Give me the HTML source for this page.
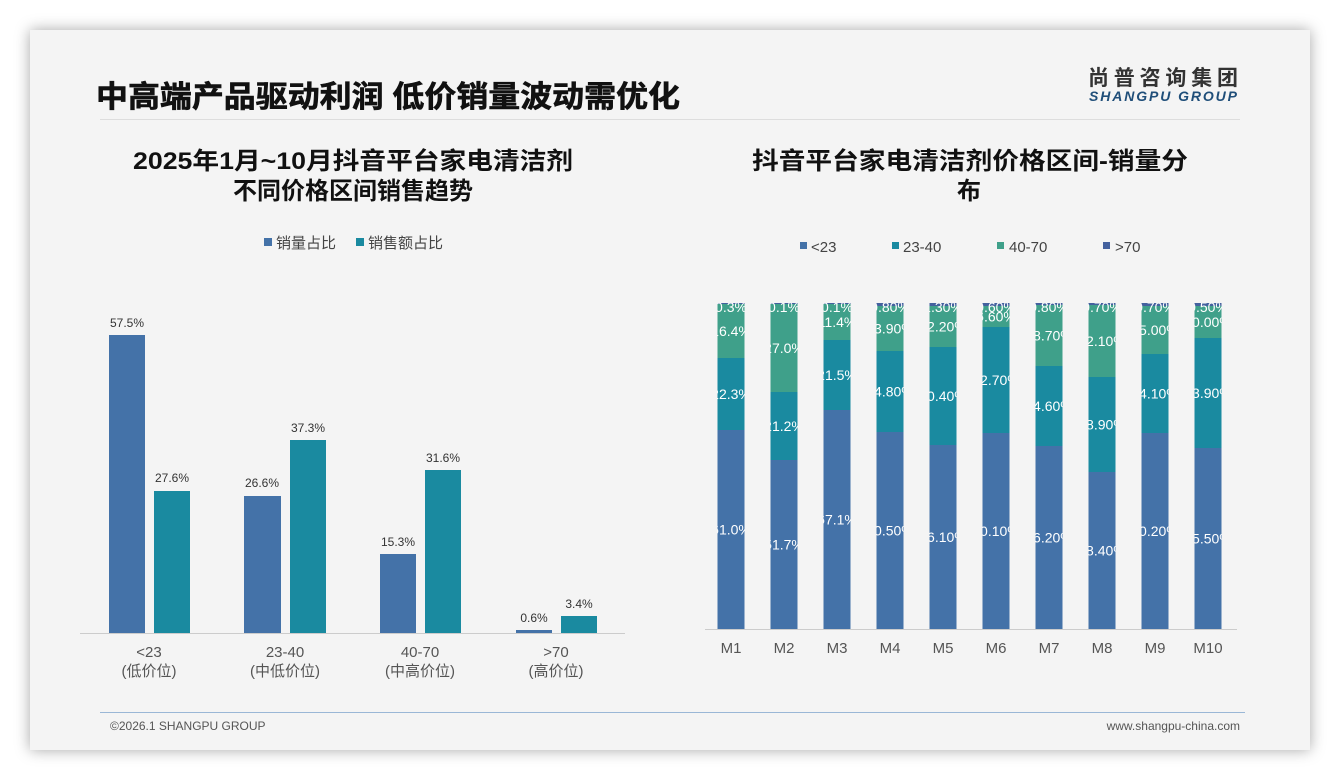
<!DOCTYPE html>
<html><head><meta charset="utf-8"><style>
html,body{margin:0;padding:0;background:#fff;}
body{width:1340px;height:780px;position:relative;overflow:hidden;font-family:"Liberation Sans","Noto Sans CJK SC",sans-serif;}
.card{position:absolute;left:30px;top:30px;width:1280px;height:720px;background:#f4f4f4;box-shadow:0 0 14px rgba(0,0,0,0.35);}
</style></head><body>
<div class="card"></div>
<svg width="1340" height="780" style="position:absolute;left:0;top:0" font-family="Liberation Sans, Noto Sans CJK SC, sans-serif">
<text x="96" y="107" font-size="30" font-weight="bold" fill="#111" textLength="584" lengthAdjust="spacingAndGlyphs" stroke="#111" stroke-width="0.6">中高端产品驱动利润 低价销量波动需优化</text>
<line x1="100" y1="119.5" x2="1240" y2="119.5" stroke="#ddd"/>
<text x="1088" y="85" font-size="21" font-weight="bold" fill="#333" textLength="150">尚普咨询集团</text>
<text x="1089" y="101" font-size="14" font-weight="bold" font-style="italic" fill="#1f4e79" textLength="148">SHANGPU GROUP</text>
<line x1="100" y1="712.5" x2="1245" y2="712.5" stroke="#9ab7d6"/>
<text x="110" y="730" font-size="12" fill="#555">©2026.1 SHANGPU GROUP</text>
<text x="1240" y="730" font-size="12" fill="#555" text-anchor="end">www.shangpu-china.com</text>

<text x="133" y="169" font-size="24" font-weight="bold" fill="#111" textLength="440" lengthAdjust="spacingAndGlyphs">2025年1月~10月抖音平台家电清洁剂</text>
<text x="353" y="199" font-size="24" font-weight="bold" fill="#111" text-anchor="middle">不同价格区间销售趋势</text>
<rect x="264" y="238" width="8" height="8" fill="#4472a8"/><text x="276" y="248" font-size="15" fill="#444">销量占比</text>
<rect x="356" y="238" width="8" height="8" fill="#1a8aa0"/><text x="368" y="248" font-size="15" fill="#444">销售额占比</text>
<g fill="#4472a8">
<rect x="109" y="335" width="36" height="298"/><rect x="244" y="496" width="37" height="137"/><rect x="380" y="554" width="36" height="79"/><rect x="516" y="630" width="36" height="3"/>
</g>
<g fill="#1a8aa0">
<rect x="154" y="491" width="36" height="142"/><rect x="290" y="440" width="36" height="193"/><rect x="425" y="470" width="36" height="163"/><rect x="561" y="616" width="36" height="17"/>
</g>
<line x1="80" y1="633.5" x2="625" y2="633.5" stroke="#ccc"/>
<g font-size="12" fill="#333" text-anchor="middle">
<text x="127" y="327">57.5%</text><text x="172" y="482">27.6%</text>
<text x="262" y="487">26.6%</text><text x="308" y="432">37.3%</text>
<text x="398" y="546">15.3%</text><text x="443" y="462">31.6%</text>
<text x="534" y="622">0.6%</text><text x="579" y="608">3.4%</text>
</g>
<g font-size="15" fill="#555" text-anchor="middle">
<text x="149" y="657">&lt;23</text><text x="149" y="676">(低价位)</text>
<text x="285" y="657">23-40</text><text x="285" y="676">(中低价位)</text>
<text x="420" y="657">40-70</text><text x="420" y="676">(中高价位)</text>
<text x="556" y="657">&gt;70</text><text x="556" y="676">(高价位)</text>
</g>

<text x="752" y="169" font-size="24" font-weight="bold" fill="#111" textLength="436" lengthAdjust="spacingAndGlyphs">抖音平台家电清洁剂价格区间-销量分</text>
<text x="969" y="199" font-size="24" font-weight="bold" fill="#111" text-anchor="middle">布</text>
<g font-size="15" fill="#444">
<rect x="800" y="242" width="7" height="7" fill="#4472a8"/><text x="811" y="252">&lt;23</text>
<rect x="892" y="242" width="7" height="7" fill="#1a8aa0"/><text x="903" y="252">23-40</text>
<rect x="997" y="242" width="7" height="7" fill="#3fa08a"/><text x="1009" y="252">40-70</text>
<rect x="1103" y="242" width="7" height="7" fill="#44619e"/><text x="1115" y="252">&gt;70</text>
</g>
<g id="bars"></g>
<line x1="705" y1="629.5" x2="1237" y2="629.5" stroke="#ccc"/>
<g font-size="15" fill="#555" text-anchor="middle">
<text x="731" y="653">M1</text><text x="784" y="653">M2</text><text x="837" y="653">M3</text><text x="890" y="653">M4</text><text x="943" y="653">M5</text><text x="996" y="653">M6</text><text x="1049" y="653">M7</text><text x="1102" y="653">M8</text><text x="1155" y="653">M9</text><text x="1208" y="653">M10</text>
</g>
</svg>
<script>
(function(){
var d=[[731,430,358,304,"61.0%","22.3%","16.4%","0.3%"],[784,460,392,304,"51.7%","21.2%","27.0%","0.1%"],[837,410,340,304,"67.1%","21.5%","11.4%","0.1%"],[890,432,351,306,"60.50%","24.80%","13.90%","0.80%"],[943,445,347,306,"56.10%","30.40%","12.20%","1.30%"],[996,433,327,306,"60.10%","32.70%","6.60%","0.60%"],[1049,446,366,305,"56.20%","24.60%","18.70%","0.80%"],[1102,472,377,305,"48.40%","28.90%","22.10%","0.70%"],[1155,433,354,306,"60.20%","24.10%","15.00%","0.70%"],[1208,448,338,306,"55.50%","33.90%","10.00%","0.50%"]];
var NS='http://www.w3.org/2000/svg',T=303,B=629,w=27,g=document.getElementById('bars');
function el(p,t,a,txt){var e=document.createElementNS(NS,t);for(var k in a)e.setAttribute(k,a[k]);if(txt)e.textContent=txt;p.appendChild(e);return e;}
d.forEach(function(b){var x=b[0]-w/2;
var sv=el(g,'svg',{x:x,y:T,width:w,height:B-T,overflow:'hidden'});
el(sv,'rect',{x:0,y:b[1]-T,width:w,height:B-b[1],fill:'#4472a8'});
el(sv,'rect',{x:0,y:b[2]-T,width:w,height:b[1]-b[2],fill:'#1a8aa0'});
el(sv,'rect',{x:0,y:b[3]-T,width:w,height:b[2]-b[3],fill:'#3fa08a'});
el(sv,'rect',{x:0,y:0,width:w,height:b[3]-T,fill:'#44619e'});
var ys=[(b[1]+B)/2,(b[1]+b[2])/2,(b[2]+b[3])/2,T+4];
for(var i=0;i<4;i++)el(sv,'text',{x:w/2,y:ys[i]+5-T,'font-size':14,fill:'#fff','text-anchor':'middle'},b[4+i]);
});
})();
</script>
</body></html>
